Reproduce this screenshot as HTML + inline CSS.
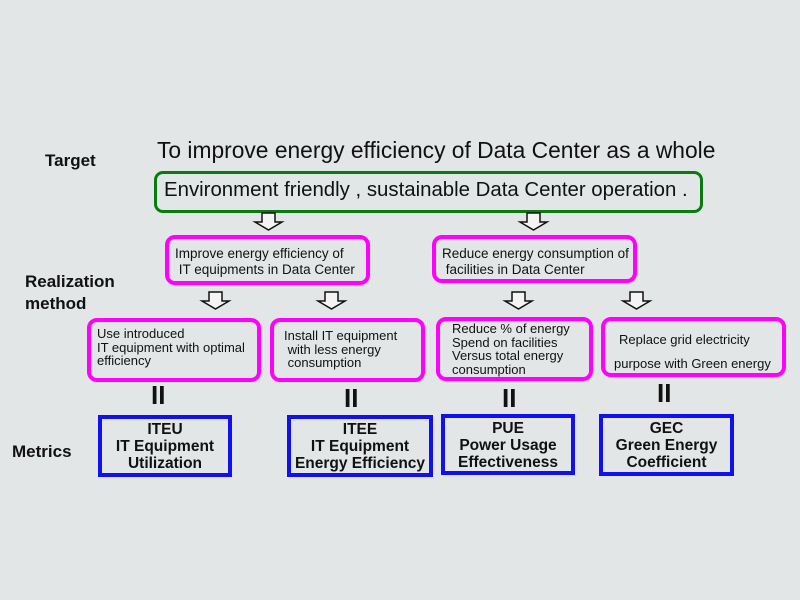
<!DOCTYPE html>
<html><head><meta charset="utf-8"><style>
body{margin:0;width:800px;height:600px;background:#e3e6e6;position:relative;overflow:hidden;font-family:"Liberation Sans",sans-serif;color:#111}
.a{position:absolute;white-space:nowrap}
.lbl{font-weight:bold;font-size:17px}
.m{position:absolute;box-sizing:border-box;border:4px solid #ff00ff;border-radius:10px;font-size:13px;line-height:13.5px;padding:0 0 0 6px;white-space:nowrap}
.b{position:absolute;box-sizing:border-box;border:4px solid #1010f0;text-align:center;font-weight:bold;font-size:15.5px;line-height:17px;padding-top:2px}
.eq{position:absolute;font-weight:bold;font-size:26px;line-height:22px}
</style></head><body>
<div class="a lbl" style="left:45px;top:151px">Target</div>
<div class="a lbl" style="left:25px;top:272px">Realization</div>
<div class="a lbl" style="left:25px;top:294px">method</div>
<div class="a lbl" style="left:12px;top:442px">Metrics</div>
<div class="a" style="left:157px;top:137px;font-size:22.8px">To improve energy efficiency of Data Center as a whole</div>
<div class="a" style="left:154px;top:171px;width:549px;height:42px;box-sizing:border-box;border:3.5px solid #0a7a10;border-radius:9px;font-size:20.4px;padding:5px 0 0 7px">Environment friendly , sustainable Data Center operation .</div>
<svg width="800" height="600" style="position:absolute;left:0;top:0">
<defs><g id="ar"><path d="M9 0H22V9H29L15.5 17L2 9H9Z" fill="#f4f4f4" stroke="#111" stroke-width="1.5"/></g></defs>
<use href="#ar" x="253" y="213"/><use href="#ar" x="518" y="213"/>
<use href="#ar" x="200" y="292"/><use href="#ar" x="316" y="292"/>
<use href="#ar" x="503" y="292"/><use href="#ar" x="621" y="292"/>
</svg>
<div class="m" style="left:165px;top:235px;width:205px;height:50px;padding-top:7px;font-size:13.5px;line-height:16px">Improve energy efficiency of<br>&nbsp;IT equipments in Data Center</div>
<div class="m" style="left:432px;top:235px;width:205px;height:48px;padding-top:7px;font-size:13.5px;line-height:16px">Reduce energy consumption of<br>&nbsp;facilities in Data Center</div>
<div class="m" style="left:87px;top:318px;width:174px;height:64px;padding-top:5px">Use introduced<br>IT equipment with optimal<br>efficiency</div>
<div class="m" style="left:270px;top:318px;width:155px;height:64px;padding-top:7px;padding-left:10px">Install IT equipment<br>&nbsp;with less energy<br>&nbsp;consumption</div>
<div class="m" style="left:436px;top:317px;width:157px;height:64px;padding-top:1px;padding-left:12px">Reduce % of energy<br>Spend on facilities<br>Versus total energy<br>consumption</div>
<div class="m" style="left:601px;top:317px;width:185px;height:60px;padding-top:7px;padding-left:14px;line-height:24px">Replace grid electricity<br><span style="margin-left:-5px">purpose with Green energy</span></div>
<div class="eq" style="left:151px;top:384px">II</div>
<div class="eq" style="left:344px;top:387px">II</div>
<div class="eq" style="left:502px;top:387px">II</div>
<div class="eq" style="left:657px;top:382px">II</div>
<div class="b" style="left:98px;top:415px;width:134px;height:62px">ITEU<br>IT Equipment<br>Utilization</div>
<div class="b" style="left:287px;top:415px;width:146px;height:62px">ITEE<br>IT Equipment<br>Energy Efficiency</div>
<div class="b" style="left:441px;top:414px;width:134px;height:61px">PUE<br>Power Usage<br>Effectiveness</div>
<div class="b" style="left:599px;top:414px;width:135px;height:62px">GEC<br>Green Energy<br>Coefficient</div>
</body></html>
